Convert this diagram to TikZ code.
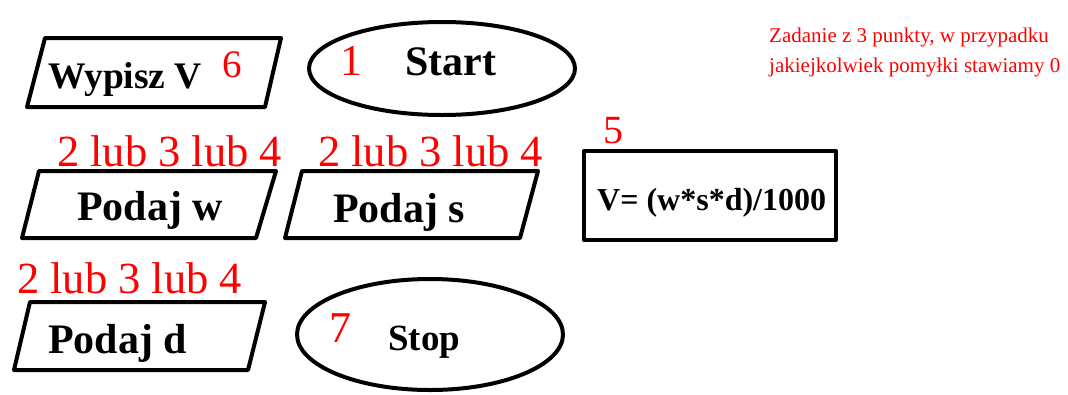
\documentclass[tikz,border=0pt]{standalone}
\usepackage{fontspec}
\setmainfont{Liberation Serif}
\usetikzlibrary{shapes.geometric}
\begin{document}
\begin{tikzpicture}[x=1pt,y=-1pt,
  shp/.style={draw,line width=4pt,line join=round},
  oval/.style={shp,ellipse,inner sep=0pt},
  lbl/.style={anchor=base west,inner sep=0pt},
  num/.style={anchor=base west,inner sep=0pt,text=red}]
\useasboundingbox (0,0) rectangle (1068,394);
% shapes
\draw[shp] (45,38) -- (281,38) -- (265,107) -- (27,107) -- cycle;
\node[oval,minimum width=266pt,minimum height=93pt] (start) at (442,68.5) {};
\draw[shp] (39,171) -- (276,171) -- (256,238) -- (22,238) -- cycle;
\draw[shp] (302,171) -- (538,171) -- (520,238) -- (285,238) -- cycle;
\draw[shp] (584,151) rectangle (836,240);
\draw[shp] (30,302) -- (265,302) -- (248,370) -- (14,370) -- cycle;
\node[oval,minimum width=266pt,minimum height=111pt] (stop) at (430,334.5) {};
% texts
\node[lbl,font=\bfseries\fontsize{37.5}{44}\selectfont] (wypisz) at (48,88) {Wypisz V};
\node[num,font=\fontsize{39}{44}\selectfont] (n6) at (222,77) {6};
\node[lbl,font=\bfseries\fontsize{42}{50}\selectfont] (starttxt) at (405,75) {Start};
\node[num,font=\fontsize{44}{50}\selectfont] (n1) at (340,75) {1};
\node[num,anchor=base west,align=left,font=\fontsize{21}{30}\selectfont] (note) at (769,72) {Zadanie z 3 punkty, w przypadku\\jakiejkolwiek pomyłki stawiamy 0};
\node[num,font=\fontsize{44.5}{50}\selectfont] (nw) at (57,166) {2 lub 3 lub 4};
\node[num,font=\fontsize{44.5}{50}\selectfont] (ns) at (318,166) {2 lub 3 lub 4};
\node[num,font=\fontsize{44.5}{50}\selectfont] (nd) at (17,293) {2 lub 3 lub 4};
\node[lbl,font=\bfseries\fontsize{42}{50}\selectfont] (podajw) at (77,220) {Podaj w};
\node[lbl,font=\bfseries\fontsize{42}{50}\selectfont] (podajs) at (333,222) {Podaj s};
\node[lbl,font=\bfseries\fontsize{42}{50}\selectfont] (podajd) at (48,353) {Podaj d};
\node[lbl,font=\bfseries\fontsize{32}{40}\selectfont] (vtxt) at (597,210) {V= (w*s*d)/1000};
\node[num,font=\fontsize{40}{46}\selectfont] (n5) at (603,143) {5};
\node[lbl,font=\bfseries\fontsize{37}{44}\selectfont] (stoptxt) at (388,350) {Stop};
\node[num,font=\fontsize{44}{50}\selectfont] (n7) at (329,342) {7};
\end{tikzpicture}
\end{document}
